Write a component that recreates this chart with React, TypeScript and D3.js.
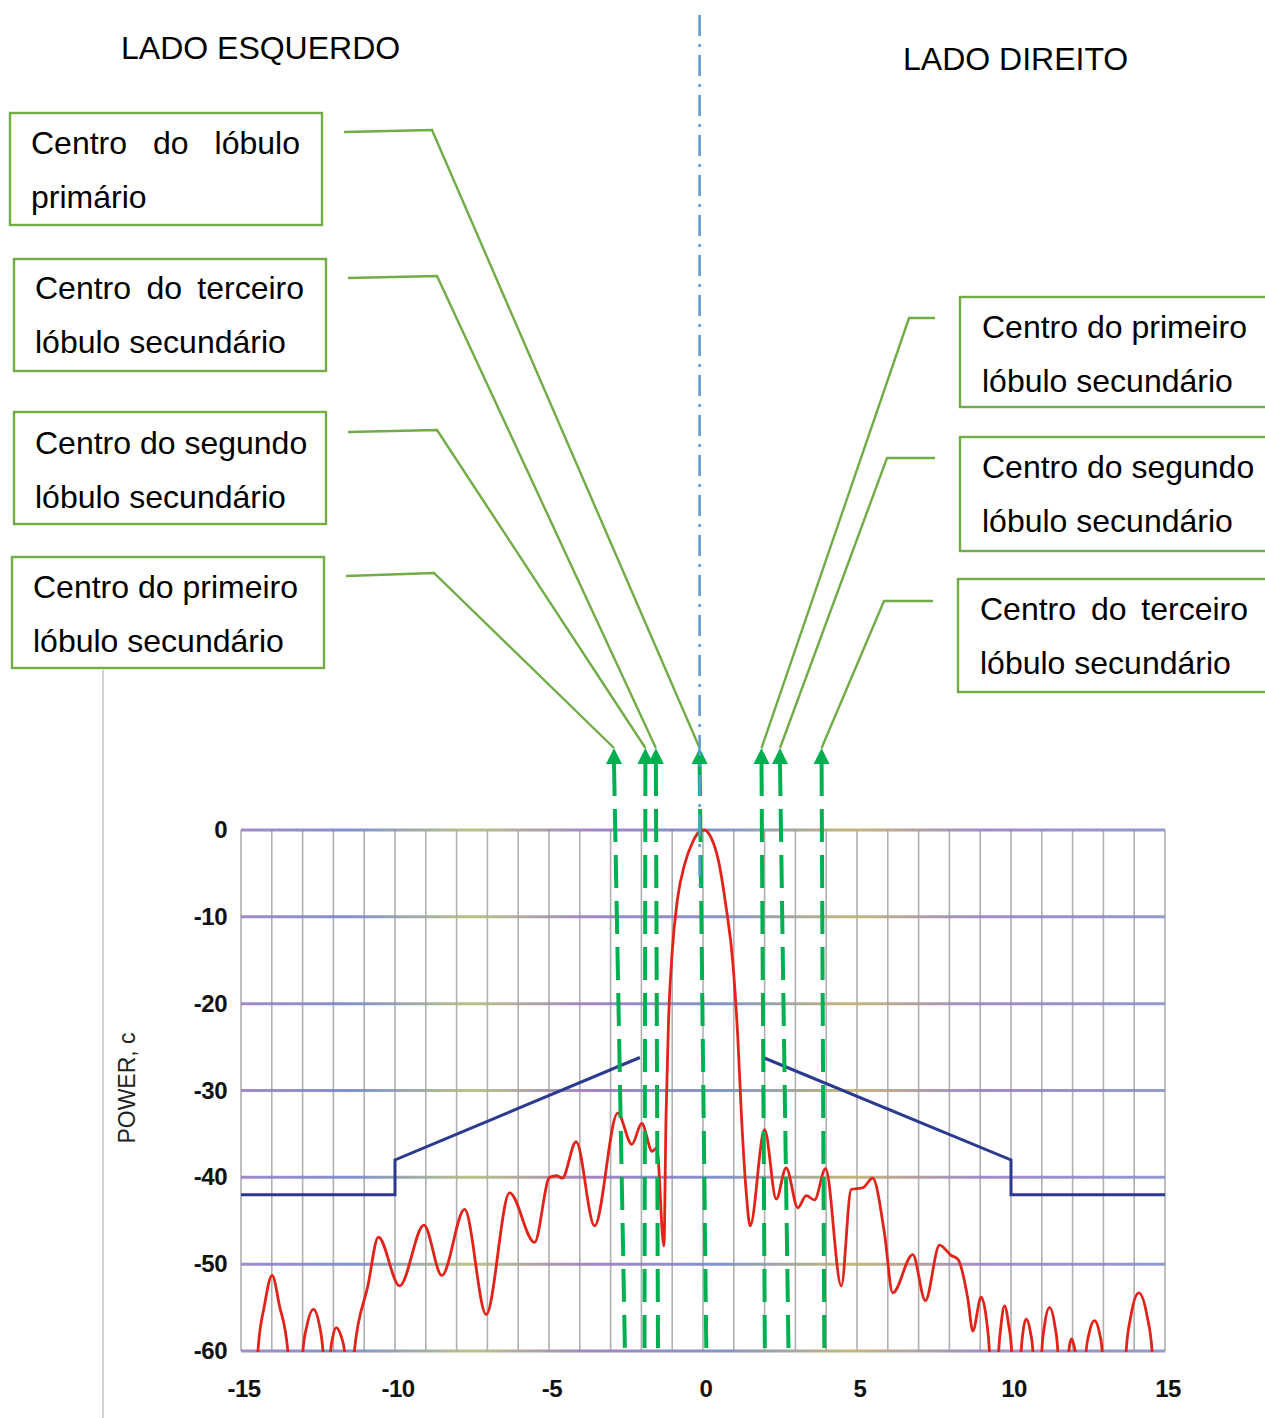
import React, { useMemo } from 'react'
import * as d3 from 'd3'

const width = 1265
const height = 1418
const font = '"Liberation Sans", Arial, Helvetica, sans-serif'
const boxGreen = '#70ad47'
const arrowGreen = '#00b050'
const centerBlue = '#5b9bd5'

const xTicks = [-15, -10, -5, 0, 5, 10, 15]
const yTicks = [0, -10, -20, -30, -40, -50, -60]
const xGrid = d3.range(-15, 16)

// power pattern (angle, dB); -63 = running below the frame
const pattern: [number, number][] = [
	[-14.5, -63], [-14.45, -60], [-14.24, -54.8], [-13.99, -51.3], [-13.75, -54.8], [-13.48, -60], [-13.43, -63],
	[-13.04, -63], [-12.99, -60], [-12.86, -57.1], [-12.65, -55.2], [-12.45, -57.1], [-12.34, -60], [-12.29, -63],
	[-12.13, -63], [-12.09, -60], [-12.02, -58.4], [-11.91, -57.3], [-11.74, -58.4], [-11.64, -60], [-11.6, -63],
	[-11.36, -63], [-11.32, -60], [-10.88, -52.5], [-10.54, -46.9], [-9.85, -52.5],
	[-9.06, -45.5], [-8.48, -51.3], [-7.74, -43.7], [-7.04, -55.8],
	[-6.28, -41.8], [-5.47, -47.5], [-4.98, -40.0], [-4.75, -39.8],
	[-4.57, -40.1], [-4.12, -35.9], [-3.52, -45.6], [-2.77, -32.6],
	[-2.31, -36.2], [-1.99, -33.8], [-1.65, -37.0], [-1.5, -36.6],
	[-1.27, -47.9], [-1.2, -33], [-1.12, -22], [-1.0, -14],
	[-0.83, -8], [-0.6, -4], [-0.35, -1.5], [-0.12, -0.2], [0.05, 0],
	[0.25, -0.8], [0.5, -3.5], [0.73, -8.4], [0.98, -15.7], [1.13, -23.9],
	[1.25, -33], [1.41, -42], [1.53, -45.6], [2.0, -34.5], [2.38, -42.5],
	[2.7, -38.9], [3.08, -43.5], [3.35, -42.1], [3.62, -42.6],
	[3.98, -39.0], [4.49, -52.5], [4.81, -41.4], [5.19, -41.2],
	[5.51, -40.1], [5.89, -46.4], [6.16, -53.3], [6.81, -48.9],
	[7.22, -54.2], [7.68, -47.8], [8.06, -49.0], [8.27, -49.4],
	[8.6, -54.0], [8.76, -57.7], [9.03, -53.8], [9.2, -56.3], [9.3, -60], [9.34, -63],
	[9.56, -63], [9.6, -60], [9.68, -56.9], [9.79, -54.8], [9.92, -56.9], [10.02, -60], [10.06, -63],
	[10.29, -63], [10.33, -60], [10.39, -57.8], [10.49, -56.3], [10.63, -57.8], [10.71, -60], [10.75, -63],
	[10.96, -63], [11.0, -60], [11.09, -57], [11.25, -55.0], [11.42, -57], [11.52, -60], [11.56, -63],
	[11.85, -63], [11.88, -60], [11.91, -59.2], [11.97, -58.6], [12.03, -59.2], [12.08, -60], [12.11, -63],
	[12.4, -63], [12.44, -60], [12.54, -57.9], [12.71, -56.5], [12.87, -57.9], [12.96, -60], [13.0, -63],
	[13.7, -63], [13.74, -60], [13.89, -56], [14.15, -53.3], [14.42, -56], [14.58, -60], [14.62, -63],
]

// limit mask either side of the main lobe
const maskLeft: [number, number][] = [[-15, -42], [-10, -42], [-10, -38], [-2.05, -26.2]]
const maskRight: [number, number][] = [[1.95, -26.2], [10, -38], [10, -42], [15, -42]]

// lobe markers: angle at the arrow tip and at the foot of the dashed line
const markerTop = [-2.89, -1.87, -1.53, -0.11, 1.9, 2.5, 3.85]
const markerBottom = [-2.53, -1.9, -1.46, 0.11, 2.01, 2.78, 3.94]
const centerLine = -0.11

type Box = {
	x: number, y: number, w: number, h: number
	tx: number, base: number, right: number
	lines: string[], justify: boolean[]
	elbow: [number, number][], marker: number
}

const boxes: Box[] = [
	{ x: 10, y: 113, w: 312, h: 112, tx: 31, base: 154, right: 300,
		lines: ['Centro do lóbulo', 'primário'], justify: [true, false],
		elbow: [[344, 132], [432, 130]], marker: 3 },
	{ x: 14, y: 259, w: 312, h: 112, tx: 35, base: 299, right: 304,
		lines: ['Centro do terceiro', 'lóbulo secundário'], justify: [true, false],
		elbow: [[348, 278], [437, 276]], marker: 2 },
	{ x: 14, y: 412, w: 312, h: 112, tx: 35, base: 454, right: 304,
		lines: ['Centro do segundo', 'lóbulo secundário'], justify: [false, false],
		elbow: [[348, 432], [437, 430]], marker: 1 },
	{ x: 12, y: 557, w: 312, h: 111, tx: 33, base: 598, right: 302,
		lines: ['Centro do primeiro', 'lóbulo secundário'], justify: [false, false],
		elbow: [[346, 576], [434, 573]], marker: 0 },
	{ x: 960, y: 297, w: 330, h: 110, tx: 982, base: 338, right: 1248,
		lines: ['Centro do primeiro', 'lóbulo secundário'], justify: [false, false],
		elbow: [[935, 318], [909, 318]], marker: 4 },
	{ x: 960, y: 437, w: 330, h: 114, tx: 982, base: 478, right: 1250,
		lines: ['Centro do segundo', 'lóbulo secundário'], justify: [false, false],
		elbow: [[935, 458], [887, 458]], marker: 5 },
	{ x: 958, y: 579, w: 330, h: 113, tx: 980, base: 620, right: 1248,
		lines: ['Centro do terceiro', 'lóbulo secundário'], justify: [true, false],
		elbow: [[933, 601], [884, 601]], marker: 6 },
]

const lineGap = 54
const tipY = 748
const headH = 16
const footY = 1358

function JustifiedLine({ text, x0, x1, y, justify, measure }) {
	if (!justify) {
		return <text x={x0} y={y}>{text}</text>
	}
	const words = text.split(' ')
	const widths = words.map(measure)
	const gap = (x1 - x0 - d3.sum(widths)) / (words.length - 1)
	let cur = x0
	return (
		<g>
			{words.map((w, i) => {
				const el = <text key={i} x={cur} y={y}>{w}</text>
				cur += widths[i] + gap
				return el
			})}
		</g>
	)
}

export default function App() {
	const x = d3.scaleLinear().domain([-15, 15]).range([241, 1165])
	const y = d3.scaleLinear().domain([0, -60]).range([830, 1351])

	const measure = useMemo(() => {
		const ctx = document.createElement('canvas').getContext('2d')
		return (t: string) => {
			ctx.font = `32px ${font}`
			return ctx.measureText(t).width
		}
	}, [])

	const curve = d3.line<[number, number]>()
		.x(d => x(d[0]))
		.y(d => y(d[1]))
		.curve(d3.curveMonotoneX)
	const straight = d3.line<[number, number]>()
		.x(d => x(d[0]))
		.y(d => y(d[1]))

	return (
		<svg width={width} height={height} style={{ position: 'absolute', left: 0, top: 0, background: '#fff' }}
			fontFamily={font}>
			<defs>
				<clipPath id="plot-clip">
					<rect x={x(-15)} y={y(0) - 4} width={x(15) - x(-15)} height={y(-60) - y(0) + 5} />
				</clipPath>
				<linearGradient id="scan-line" gradientUnits="userSpaceOnUse" x1={x(-15)} x2={x(15)} y1={0} y2={0}>
					<stop offset="0" stopColor="#9880c4" />
					<stop offset="0.12" stopColor="#7587c8" />
					<stop offset="0.25" stopColor="#b4bd7c" />
					<stop offset="0.38" stopColor="#9a78bd" />
					<stop offset="0.52" stopColor="#768bc4" />
					<stop offset="0.66" stopColor="#bfb06e" />
					<stop offset="0.8" stopColor="#9a80c2" />
					<stop offset="1" stopColor="#8790c9" />
				</linearGradient>
			</defs>

			{/* left edge of the scanned figure */}
			<line x1={103} x2={103} y1={670} y2={height} stroke="#d2d2d2" strokeWidth={2} />

			{/* titles */}
			<text x={121} y={59} fontSize={32}>LADO ESQUERDO</text>
			<text x={903} y={70} fontSize={32}>LADO DIREITO</text>

			{/* grid */}
			<g className="grid">
				{xGrid.map(v => (
					<line key={v} x1={x(v)} x2={x(v)} y1={y(0)} y2={y(-60)}
						stroke="#b0b0b0" strokeWidth={1.6} />
				))}
				{yTicks.map(v => (
					<line key={v} x1={x(-15)} x2={x(15)} y1={y(v)} y2={y(v)}
						stroke="url(#scan-line)" strokeWidth={3} opacity={0.9} />
				))}
			</g>

			{/* tick labels */}
			<g fontWeight="bold" fontSize={24} fill="#111">
				{yTicks.map(v => (
					<text key={v} x={x(-15) - 14} y={y(v) + 8} textAnchor="end" letterSpacing={-0.5}>{String(v)}</text>
				))}
				{xTicks.map(v => (
					<text key={v} x={x(v) + 3} y={1397} textAnchor="middle" letterSpacing={-0.5}>{String(v)}</text>
				))}
			</g>
			<text transform="translate(135,1088) rotate(-90)" textAnchor="middle" fontSize={23} fill="#222">POWER, c</text>

			{/* mask */}
			<g fill="none" stroke="#2b3990" strokeWidth={3}>
				<path d={straight(maskLeft)} />
				<path d={straight(maskRight)} />
			</g>

			{/* pattern */}
			<path d={curve(pattern)} fill="none" stroke="#e2231a" strokeWidth={2.8}
				strokeLinejoin="round" clipPath="url(#plot-clip)" />

			{/* annotation boxes and leaders */}
			<g fontSize={32} fill="#000">
				{boxes.map((b, i) => (
					<g key={i}>
						<rect x={b.x} y={b.y} width={b.w} height={b.h} fill="none" stroke={boxGreen} strokeWidth={2.4} />
						{b.lines.map((l, j) => (
							<JustifiedLine key={j} text={l} x0={b.tx} x1={b.right} y={b.base + j * lineGap}
								justify={b.justify[j]} measure={measure} />
						))}
						<polyline fill="none" stroke={boxGreen} strokeWidth={2.4}
							points={[...b.elbow, [x(markerTop[b.marker]), tipY]].map(p => p.join(',')).join(' ')} />
					</g>
				))}
			</g>

			{/* lobe markers */}
			<g fill={arrowGreen} stroke={arrowGreen}>
				{markerTop.map((m, i) => (
					<g key={i}>
						<line x1={x(m)} y1={tipY + headH - 1} x2={x(markerBottom[i])} y2={footY}
							strokeWidth={4} strokeDasharray="33 13" />
						<polygon stroke="none"
							points={`${x(m)},${tipY} ${x(m) - 8},${tipY + headH} ${x(m) + 8},${tipY + headH}`} />
					</g>
				))}
			</g>

			{/* centre line */}
			<line x1={x(centerLine)} x2={x(centerLine)} y1={15} y2={886}
				stroke={centerBlue} strokeWidth={2.5} strokeDasharray="21 8 3 8" />
		</svg>
	)
}
